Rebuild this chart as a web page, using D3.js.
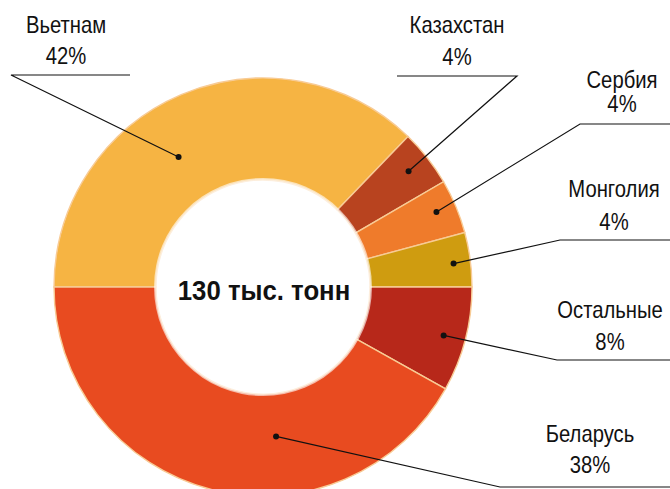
<!DOCTYPE html>
<html>
<head>
<meta charset="utf-8">
<script src="https://cdn.jsdelivr.net/npm/d3@7"></script>
<style>
  html, body { margin: 0; padding: 0; background: #fff; }
  svg { display: block; }
  text { font-family: "Liberation Sans", Arial, sans-serif; fill: #111; }
</style>
</head>
<body>
<svg id="chart" width="670" height="489"></svg>
<script>
// ---- data ----
const countries = ["Вьетнам", "Казахстан", "Сербия", "Монголия", "Остальные", "Беларусь"];
// slice sizes as drawn in the picture (share of the ring, %)
const shares = [37.2, 4.4, 4.2, 4.2, 8.1, 41.9];
// percentages printed in the labels
const pctLabels = ["42%", "4%", "4%", "4%", "8%", "38%"];
const colors = ["#F6B443", "#B8431F", "#EF7B2B", "#CF9C10", "#B7281A", "#E84B20"];
const centerLabel = "130 тыс. тонн";

// ---- layout ----
const cx = 263, cy = 287, rOuter = 209, rInner = 107;
// label annotation layout: text centre, baselines, dot (angle deg / radius), elbow, end of leader
const layout = [
  { tx: 66,  y1: 33,  y2: 64,  dotA: -33, dotR: 155, elbow: [11, 75],   end: [130, 75] },
  { tx: 457, y1: 33,  y2: 65,  dotA: 51.5, dotR: 186, elbow: [517, 76],  end: [397, 76] },
  { tx: 622, y1: 88,  y2: 112, dotA: 66.6, dotR: 189, elbow: [580, 124], end: [672, 124] },
  { tx: 614, y1: 197, y2: 230, dotA: 83,  dotR: 192, elbow: [560, 240], end: [672, 240] },
  { tx: 610, y1: 318, y2: 350, dotA: 105, dotR: 187, elbow: [557, 360], end: [672, 360] },
  { tx: 590, y1: 442, y2: 473, dotA: 175, dotR: 150, elbow: [500, 487], end: [672, 487] }
];

const data = countries.map((c, i) => ({ name: c, value: shares[i], pct: pctLabels[i], color: colors[i], lay: layout[i] }));

const svg = d3.select("#chart");
const g = svg.append("g").attr("transform", `translate(${cx},${cy})`);

const pie = d3.pie().sort(null).value(d => d.value)
  .startAngle(-Math.PI / 2).endAngle(1.5 * Math.PI);
const arc = d3.arc().innerRadius(rInner).outerRadius(rOuter);

g.selectAll("path.slice").data(pie(data)).join("path")
  .attr("class", "slice")
  .attr("d", arc)
  .attr("fill", d => d.data.color)
  .attr("stroke", "#F8CB95")
  .attr("stroke-width", 1.4);

// soft white inner disc
const defs = svg.append("defs");
const rg = defs.append("radialGradient").attr("id", "innerGlow");
rg.append("stop").attr("offset", "0.9").attr("stop-color", "#fff");
rg.append("stop").attr("offset", "1").attr("stop-color", "#fff").attr("stop-opacity", 0.6);
g.append("circle").attr("r", rInner + 2).attr("fill", "url(#innerGlow)");

// centre label
g.append("text")
  .attr("transform", "translate(1,13) scale(0.92,1)")
  .attr("text-anchor", "middle")
  .attr("font-size", 28).attr("font-weight", "bold")
  .text(centerLabel);

// leader lines + dots
const toXY = (aDeg, r) => {
  const a = aDeg * Math.PI / 180;
  return [cx + r * Math.sin(a), cy - r * Math.cos(a)];
};
const lines = svg.append("g");
data.forEach(d => {
  const L = d.lay;
  const p = toXY(L.dotA, L.dotR);
  lines.append("polyline")
    .attr("points", [p, L.elbow, L.end].map(q => q.join(",")).join(" "))
    .attr("fill", "none").attr("stroke", "#111").attr("stroke-width", 1.2);
  lines.append("circle").attr("cx", p[0]).attr("cy", p[1]).attr("r", 3).attr("fill", "#111");
});

// labels
const labels = svg.append("g");
data.forEach(d => {
  const L = d.lay;
  [[d.name, L.y1], [d.pct, L.y2]].forEach(([s, y]) => {
    labels.append("text")
      .attr("transform", `translate(${L.tx},${y}) scale(0.88,1)`)
      .attr("text-anchor", "middle")
      .attr("font-size", 23)
      .text(s);
  });
});
</script>
</body>
</html>
